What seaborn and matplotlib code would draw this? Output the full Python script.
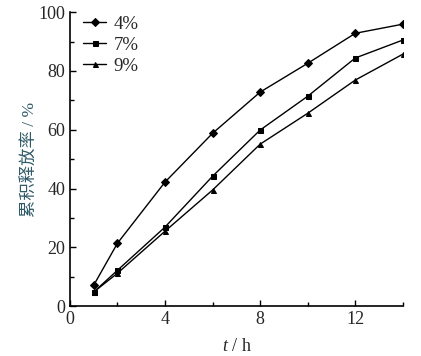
import numpy as np
import pandas as pd
import seaborn as sns
import matplotlib.pyplot as plt
from matplotlib.ticker import MultipleLocator

time_h = [1, 2, 4, 6, 8, 10, 12, 14]
rel_4 = [7.1, 21.4, 42.2, 58.8, 72.8, 82.6, 92.8, 95.9]
rel_7 = [4.8, 12.2, 26.9, 44.2, 59.9, 71.4, 84.4, 90.5]
rel_9 = [4.8, 11.2, 25.5, 39.5, 55.1, 65.6, 76.9, 85.7]
labels = ['4%', '7%', '9%']

df = pd.DataFrame({
    't': time_h * 3,
    'rel': rel_4 + rel_7 + rel_9,
    'grp': [labels[0]] * 8 + [labels[1]] * 8 + [labels[2]] * 8,
})

sns.set_style('ticks')
plt.rcParams['font.family'] = ['Liberation Serif', 'Noto Sans CJK SC', 'DejaVu Sans']
plt.rcParams['mathtext.fontset'] = 'custom'
plt.rcParams['mathtext.it'] = 'Liberation Serif:italic'
plt.rcParams['mathtext.rm'] = 'Liberation Serif'

fig = plt.figure(figsize=(4.21, 3.56), dpi=100)
ax = fig.add_axes([0.166, 0.14, 0.791, 0.826])

sns.lineplot(data=df, x='t', y='rel', hue='grp', style='grp',
             palette=['black', 'black', 'black'],
             markers={'4%': 'D', '7%': 's', '9%': '^'},
             dashes=False, markersize=3.6, linewidth=1.0,
             markeredgecolor='black', ax=ax)

ax.set_xlim(0, 14)
ax.set_ylim(0, 100)
ax.xaxis.set_major_locator(MultipleLocator(4))
ax.xaxis.set_minor_locator(MultipleLocator(2))
ax.yaxis.set_major_locator(MultipleLocator(20))
ax.yaxis.set_minor_locator(MultipleLocator(10))
ax.tick_params(which='both', direction='in', labelsize=13, width=1, color='black')
ax.tick_params(which='major', length=4)
ax.tick_params(which='minor', length=3)
for s in ['top', 'right']:
    ax.spines[s].set_visible(False)
for s in ['left', 'bottom']:
    ax.spines[s].set_linewidth(1.2)
    ax.spines[s].set_color('black')

ax.set_xlabel('$t$ / h', fontsize=13, labelpad=7)
ax.set_ylabel('累积释放率 / %', fontsize=12.5, color='#2f5a68', labelpad=0)

leg = ax.legend(loc='upper left', bbox_to_anchor=(-0.01, 1.045), frameon=False,
                fontsize=13.5, handlelength=1.2, labelspacing=0.2, handletextpad=0.4)
leg.set_title(None)

fig.savefig('out.png', dpi=100)
